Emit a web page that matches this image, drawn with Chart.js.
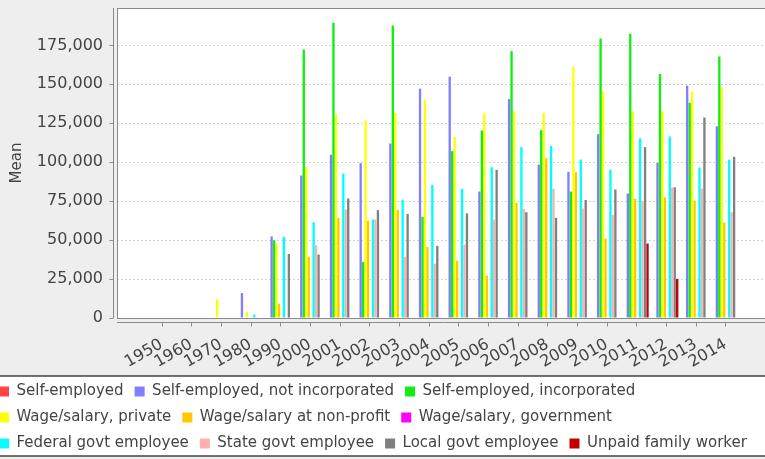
<!DOCTYPE html>
<html>
<head>
<meta charset="utf-8">
<script src="https://cdn.jsdelivr.net/npm/chart.js@4.4.1/dist/chart.umd.min.js"></script>
<style>
  html, body { margin: 0; padding: 0; background: #eeeeee; overflow: hidden; }
  body { width: 765px; height: 459px; position: relative; }
  #chart { position: absolute; left: -12px; top: 0; }
</style>
</head>
<body>
<canvas id="chart" width="800" height="459"></canvas>
<script>
const categories = ['1950', '1960', '1970', '1980', '1990', '2000', '2001', '2002', '2003', '2004',
    '2005', '2006', '2007', '2008', '2009', '2010', '2011', '2012', '2013', '2014'];

const seriesNames = ['Self-employed', 'Self-employed, not incorporated', 'Self-employed, incorporated',
    'Wage/salary, private', 'Wage/salary at non-profit', 'Wage/salary, government',
    'Federal govt employee', 'State govt employee', 'Local govt employee', 'Unpaid family worker'];

const seriesColors = ['#ff4444', '#8080ff', '#11ee11', '#ffff00', '#ffc800', '#ff00ff',
    '#00ffff', '#ffafaf', '#808080', '#c00000'];

const selfEmployed = [null, null, null, null, null, null, null, null, null, null,
    null, null, null, null, null, null, null, null, null, null];
const selfNotIncorporated = [null, null, null, 16000, 52400, 91500, 104800, 99400, 112000, 147200,
    154900, 81200, 140500, 98500, 93800, 118000, 79900, 99600, 149100, 123100];
const selfIncorporated = [null, null, null, null, 49900, 172400, 189600, 36000, 187700, 64900,
    107100, 120400, 171400, 120600, 81200, 179500, 182500, 156600, 138200, 167900];
const wagePrivate = [null, null, 11800, 3900, 47800, 96800, 130700, 126800, 131800, 140300,
    116300, 131500, 132600, 131800, 161300, 145600, 132800, 132600, 145400, 148000];
const wageNonProfit = [null, null, null, null, 9200, 39200, 64300, 62500, 69400, 45600,
    36800, 27200, 73900, 102600, 93600, 51000, 76500, 77500, 75400, 61300];
const wageGovernment = [null, null, null, null, null, null, null, null, null, null,
    null, null, null, null, null, null, null, null, null, null];
const federalGovt = [null, null, null, 2100, 52100, 61400, 92700, 63200, 76000, 85500,
    82900, 96800, 109700, 110500, 101700, 95300, 115400, 116500, 96600, 101700];
const stateGovt = [null, null, null, null, null, 46700, 69600, 63200, 39200, 34900,
    47100, 63200, 70100, 83100, 70300, 66200, 75200, 83900, 83100, 67900];
const localGovt = [null, null, null, null, 41100, 40700, 76700, 69200, 66800, 46300,
    67200, 95100, 67900, 64300, 75800, 82500, 109700, 83900, 128700, 103500];
const unpaidFamily = [null, null, null, null, null, null, null, null, null, null,
    null, null, null, null, null, null, 47800, 25100, null, null];

const allSeries = [selfEmployed, selfNotIncorporated, selfIncorporated, wagePrivate, wageNonProfit,
    wageGovernment, federalGovt, stateGovt, localGovt, unpaidFamily];

const yTicks = [0, 25000, 50000, 75000, 100000, 125000, 150000, 175000];
const yMax = 199000;

const axisGray = '#8a8a8a';
const textGray = '#444444';

// plot background, legend frame, and the offset axis lines with their tick marks
const framePlugin = {
    id: 'frame',
    beforeDraw(chart) {
        const {ctx, chartArea: a, legend} = chart;
        ctx.save();
        ctx.fillStyle = '#ffffff';
        ctx.fillRect(a.left, a.top, a.right - a.left, a.bottom - a.top);
        let top = legend.top + 3;
        let bottom = legend.top + 83;
        ctx.fillRect(2, top, chart.width - 4, bottom - top);
        ctx.strokeStyle = '#444444';
        ctx.lineWidth = 1.5;
        ctx.strokeRect(2, top, chart.width - 4, bottom - top);
        ctx.restore();
    },
    afterDraw(chart) {
        const {ctx, chartArea: a} = chart;
        const x = chart.scales.x;
        const y = chart.scales.y;
        ctx.save();
        ctx.strokeStyle = axisGray;
        ctx.lineWidth = 1;
        ctx.strokeRect(a.left + 0.5, a.top + 0.5, a.right - a.left, a.bottom - a.top);
        let ax = a.left - 3.5;
        let ay = Math.round(a.bottom) + 4.5;
        ctx.beginPath();
        ctx.moveTo(ax, a.top);
        ctx.lineTo(ax, a.bottom);
        ctx.moveTo(a.left, ay);
        ctx.lineTo(a.right, ay);
        y.ticks.forEach(function (t) {
            let py = Math.round(y.getPixelForValue(t.value)) + 0.5;
            ctx.moveTo(ax - 4, py);
            ctx.lineTo(ax, py);
        });
        x.ticks.forEach(function (t) {
            let px = Math.round(x.getPixelForValue(t.value)) + 0.5;
            ctx.moveTo(px, ay);
            ctx.lineTo(px, ay + 4);
        });
        ctx.stroke();
        ctx.restore();
    }
};

let datasets = allSeries.map(function (values, i) {
    return {
        label: seriesNames[i],
        data: values.map((v, j) => ({x: j, y: v})),
        backgroundColor: seriesColors[i],
        borderWidth: 0,
        categoryPercentage: 0.83,
        barPercentage: 0.95
    };
});

let chart = new Chart(document.getElementById('chart').getContext('2d'), {
    type: 'bar',
    data: {datasets: datasets},
    plugins: [framePlugin],
    options: {
        responsive: false,
        animation: false,
        devicePixelRatio: 1,
        layout: {padding: {top: 8, right: 18, bottom: -2, left: 0}},
        plugins: {
            tooltip: {enabled: false},
            legend: {
                position: 'bottom',
                align: 'start',
                labels: {
                    boxWidth: 10,
                    boxHeight: 10,
                    padding: 11,
                    color: textGray,
                    font: {family: 'DejaVu Sans', size: 15}
                }
            }
        },
        scales: {
            x: {
                type: 'linear',
                offset: false,
                min: -1.5,
                max: 20.5,
                grid: {display: false, offset: false},
                border: {display: false},
                afterBuildTicks: function (scale) {
                    scale.ticks = categories.map((c, i) => ({value: i}));
                },
                afterFit: function (scale) {
                    scale.height = 55;
                    scale.paddingLeft = 0;
                    scale.paddingRight = 0;
                },
                ticks: {
                    autoSkip: false,
                    minRotation: 30,
                    maxRotation: 30,
                    padding: 9,
                    color: textGray,
                    font: {family: 'DejaVu Sans', size: 16},
                    callback: (v) => categories[v]
                }
            },
            y: {
                min: 0,
                max: yMax,
                afterBuildTicks: function (scale) {
                    scale.ticks = yTicks.map(v => ({value: v}));
                },
                afterFit: function (scale) {
                    scale.width = 129;
                    scale.paddingTop = 0;
                    scale.paddingBottom = 0;
                },
                grid: {color: '#d4d4d4', drawTicks: false},
                border: {display: false, dash: [2, 2]},
                ticks: {
                    padding: 14,
                    color: textGray,
                    font: {family: 'DejaVu Sans', size: 16}
                },
                title: {
                    display: true,
                    text: 'Mean',
                    color: textGray,
                    font: {family: 'DejaVu Sans', size: 15},
                    padding: {top: 20, bottom: 0}
                }
            }
        }
    }
});
</script>
</body>
</html>
